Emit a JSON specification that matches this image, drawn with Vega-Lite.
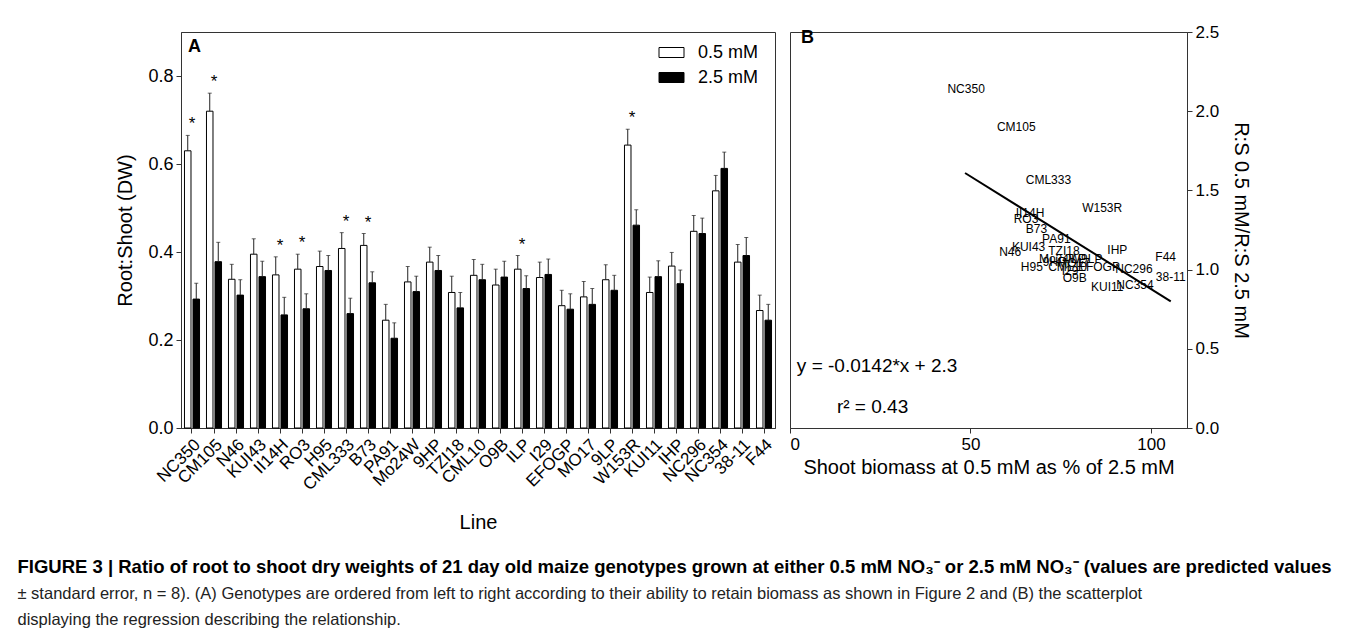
{
  "$schema": "https://vega.github.io/schema/vega-lite/v6.json",
  "padding": {"left": 17, "top": 22, "right": 5, "bottom": 5},
  "background": "white",
  "bounds": "flush",
  "spacing": 15,
  "config": {
    "font": "Liberation Sans",
    "view": {"stroke": "#333", "strokeWidth": 1},
    "axis": {"grid": false, "labelFontSize": 18, "titleFontSize": 20, "labelColor": "black", "titleColor": "black", "domainColor": "#333", "tickColor": "#333", "titleFontWeight": "normal", "tickSize": 5, "labelPadding": 3}
  },
  "title": {
    "text": ["FIGURE 3 | Ratio of root to shoot dry weights of 21 day old maize genotypes grown at either 0.5 mM NO₃⁻ or 2.5 mM NO₃⁻ (values are predicted values"],
    "subtitle": ["± standard error, n = 8). (A) Genotypes are ordered from left to right according to their ability to retain biomass as shown in Figure 2 and (B) the scatterplot", "displaying the regression describing the relationship."],
    "orient": "bottom", "anchor": "start", "font": "Liberation Sans", "fontSize": 18.5, "fontWeight": "bold", "color": "black",
    "subtitleFont": "Liberation Sans", "subtitleFontSize": 16.5, "subtitleFontWeight": "normal", "subtitleColor": "#222",
    "lineHeight": 27, "subtitleLineHeight": 26.5, "subtitlePadding": 9, "offset": 25, "dx": -98
  },
  "hconcat": [
    {
      "width": 594, "height": 396,
      "title": {"text": "A", "anchor": "start", "frame": "group", "fontSize": 18, "fontWeight": "bold", "offset": 0, "dx": 7, "dy": 38, "baseline": "alphabetic", "color": "black"},
      "data": {"values": [
        {"line": "NC350", "conc": "0.5 mM", "rs": 0.63, "hi": 0.665, "star": "*"},
        {"line": "NC350", "conc": "2.5 mM", "rs": 0.293, "hi": 0.329},
        {"line": "CM105", "conc": "0.5 mM", "rs": 0.72, "hi": 0.761, "star": "*"},
        {"line": "CM105", "conc": "2.5 mM", "rs": 0.378, "hi": 0.422},
        {"line": "N46", "conc": "0.5 mM", "rs": 0.338, "hi": 0.372},
        {"line": "N46", "conc": "2.5 mM", "rs": 0.302, "hi": 0.337},
        {"line": "KUI43", "conc": "0.5 mM", "rs": 0.395, "hi": 0.43},
        {"line": "KUI43", "conc": "2.5 mM", "rs": 0.344, "hi": 0.379},
        {"line": "II14H", "conc": "0.5 mM", "rs": 0.348, "hi": 0.389, "star": "*"},
        {"line": "II14H", "conc": "2.5 mM", "rs": 0.257, "hi": 0.297},
        {"line": "RO3", "conc": "0.5 mM", "rs": 0.361, "hi": 0.395, "star": "*"},
        {"line": "RO3", "conc": "2.5 mM", "rs": 0.271, "hi": 0.305},
        {"line": "H95", "conc": "0.5 mM", "rs": 0.367, "hi": 0.402},
        {"line": "H95", "conc": "2.5 mM", "rs": 0.358, "hi": 0.392},
        {"line": "CML333", "conc": "0.5 mM", "rs": 0.408, "hi": 0.444, "star": "*"},
        {"line": "CML333", "conc": "2.5 mM", "rs": 0.26, "hi": 0.295},
        {"line": "B73", "conc": "0.5 mM", "rs": 0.415, "hi": 0.442, "star": "*"},
        {"line": "B73", "conc": "2.5 mM", "rs": 0.33, "hi": 0.355},
        {"line": "PA91", "conc": "0.5 mM", "rs": 0.245, "hi": 0.281},
        {"line": "PA91", "conc": "2.5 mM", "rs": 0.204, "hi": 0.239},
        {"line": "Mo24W", "conc": "0.5 mM", "rs": 0.332, "hi": 0.367},
        {"line": "Mo24W", "conc": "2.5 mM", "rs": 0.31, "hi": 0.345},
        {"line": "9HP", "conc": "0.5 mM", "rs": 0.377, "hi": 0.411},
        {"line": "9HP", "conc": "2.5 mM", "rs": 0.358, "hi": 0.392},
        {"line": "TZI18", "conc": "0.5 mM", "rs": 0.308, "hi": 0.345},
        {"line": "TZI18", "conc": "2.5 mM", "rs": 0.273, "hi": 0.308},
        {"line": "CML10", "conc": "0.5 mM", "rs": 0.347, "hi": 0.383},
        {"line": "CML10", "conc": "2.5 mM", "rs": 0.337, "hi": 0.372},
        {"line": "O9B", "conc": "0.5 mM", "rs": 0.325, "hi": 0.361},
        {"line": "O9B", "conc": "2.5 mM", "rs": 0.343, "hi": 0.379},
        {"line": "ILP", "conc": "0.5 mM", "rs": 0.361, "hi": 0.392, "star": "*"},
        {"line": "ILP", "conc": "2.5 mM", "rs": 0.317, "hi": 0.346},
        {"line": "I29", "conc": "0.5 mM", "rs": 0.342, "hi": 0.377},
        {"line": "I29", "conc": "2.5 mM", "rs": 0.349, "hi": 0.384},
        {"line": "EFOGP", "conc": "0.5 mM", "rs": 0.278, "hi": 0.313},
        {"line": "EFOGP", "conc": "2.5 mM", "rs": 0.27, "hi": 0.305},
        {"line": "MO17", "conc": "0.5 mM", "rs": 0.298, "hi": 0.333},
        {"line": "MO17", "conc": "2.5 mM", "rs": 0.281, "hi": 0.317},
        {"line": "9LP", "conc": "0.5 mM", "rs": 0.337, "hi": 0.371},
        {"line": "9LP", "conc": "2.5 mM", "rs": 0.313, "hi": 0.347},
        {"line": "W153R", "conc": "0.5 mM", "rs": 0.643, "hi": 0.679, "star": "*"},
        {"line": "W153R", "conc": "2.5 mM", "rs": 0.461, "hi": 0.496},
        {"line": "KUI11", "conc": "0.5 mM", "rs": 0.308, "hi": 0.343},
        {"line": "KUI11", "conc": "2.5 mM", "rs": 0.344, "hi": 0.38},
        {"line": "IHP", "conc": "0.5 mM", "rs": 0.368, "hi": 0.399},
        {"line": "IHP", "conc": "2.5 mM", "rs": 0.328, "hi": 0.359},
        {"line": "NC296", "conc": "0.5 mM", "rs": 0.447, "hi": 0.483},
        {"line": "NC296", "conc": "2.5 mM", "rs": 0.442, "hi": 0.477},
        {"line": "NC354", "conc": "0.5 mM", "rs": 0.539, "hi": 0.574},
        {"line": "NC354", "conc": "2.5 mM", "rs": 0.59, "hi": 0.627},
        {"line": "38-11", "conc": "0.5 mM", "rs": 0.377, "hi": 0.417},
        {"line": "38-11", "conc": "2.5 mM", "rs": 0.392, "hi": 0.433},
        {"line": "F44", "conc": "0.5 mM", "rs": 0.267, "hi": 0.302},
        {"line": "F44", "conc": "2.5 mM", "rs": 0.245, "hi": 0.281}
      ]},
      "encoding": {
        "x": {"field": "line", "type": "nominal", "sort": null,
              "scale": {"paddingInner": 0.316, "paddingOuter": 0.158},
              "axis": {"title": "Line", "labelAngle": -45, "labelFontSize": 17, "titlePadding": 20}}
      },
      "layer": [
        {
          "mark": {"type": "bar", "stroke": "black", "strokeWidth": 1},
          "encoding": {
            "xOffset": {"field": "conc", "type": "nominal", "scale": {"paddingInner": 0.235}},
            "y": {"field": "rs", "type": "quantitative", "scale": {"domain": [0, 0.9], "nice": false},
                  "axis": {"values": [0, 0.2, 0.4, 0.6, 0.8], "format": ".1f", "title": "Root:Shoot (DW)", "titlePadding": 12}},
            "fill": {"field": "conc", "type": "nominal",
                     "scale": {"domain": ["0.5 mM", "2.5 mM"], "range": ["white", "black"]},
                     "legend": {"title": null, "orient": "none", "legendX": 480, "legendY": 10,
                                "symbolType": "M-1.25,-0.5H1.25V0.5H-1.25Z", "symbolSize": 400,
                                "symbolStrokeColor": "black", "symbolStrokeWidth": 1, "symbolOpacity": 1,
                                "labelFontSize": 18, "labelColor": "black", "labelOffset": 16, "rowPadding": 5, "padding": 0}}
          }
        },
        {
          "mark": {"type": "rule", "color": "#222", "strokeWidth": 1},
          "encoding": {
            "xOffset": {"field": "conc", "type": "nominal"},
            "y": {"field": "rs", "type": "quantitative"},
            "y2": {"field": "hi"}
          }
        },
        {
          "mark": {"type": "tick", "color": "#222", "size": 4, "thickness": 1, "orient": "horizontal"},
          "encoding": {
            "xOffset": {"field": "conc", "type": "nominal"},
            "y": {"field": "hi", "type": "quantitative"}
          }
        },
        {
          "transform": [{"filter": "datum.star && datum.conc == '0.5 mM'"}],
          "mark": {"type": "text", "fontSize": 17, "dy": -6, "baseline": "alphabetic", "color": "black"},
          "encoding": {
            "y": {"field": "hi", "type": "quantitative"},
            "text": {"field": "star"}
          }
        }
      ]
    },
    {
      "width": 397, "height": 396,
      "title": {"text": "B", "anchor": "start", "frame": "group", "fontSize": 18, "fontWeight": "bold", "offset": 0, "dx": 11, "dy": 38, "baseline": "alphabetic", "color": "black"},
      "layer": [
        {
          "data": {"values": [
            {"g": "NC350", "x": 48.8, "y": 2.14},
            {"g": "CM105", "x": 62.7, "y": 1.898},
            {"g": "CML333", "x": 71.6, "y": 1.564},
            {"g": "W153R", "x": 86.5, "y": 1.391},
            {"g": "II14H", "x": 66.5, "y": 1.36},
            {"g": "RO3", "x": 65.4, "y": 1.32},
            {"g": "B73", "x": 68.3, "y": 1.256},
            {"g": "PA91", "x": 73.8, "y": 1.195},
            {"g": "KUI43", "x": 66.1, "y": 1.14},
            {"g": "N46", "x": 61.0, "y": 1.111},
            {"g": "TZI18", "x": 75.9, "y": 1.12},
            {"g": "IHP", "x": 90.7, "y": 1.122},
            {"g": "F44", "x": 104.1, "y": 1.082},
            {"g": "NC296", "x": 95.3, "y": 1.006},
            {"g": "38-11", "x": 105.5, "y": 0.951},
            {"g": "NC354", "x": 95.6, "y": 0.903},
            {"g": "KUI11", "x": 87.9, "y": 0.888},
            {"g": "H95", "x": 67.0, "y": 1.016},
            {"g": "CML10", "x": 76.9, "y": 1.016},
            {"g": "O9B", "x": 78.9, "y": 0.947},
            {"g": "I29", "x": 77.6, "y": 0.99},
            {"g": "EFOGP", "x": 85.6, "y": 1.016},
            {"g": "Mo24W", "x": 74.7, "y": 1.07},
            {"g": "9HP", "x": 73.3, "y": 1.05},
            {"g": "ILP", "x": 79.5, "y": 1.07},
            {"g": "MO17", "x": 78.6, "y": 1.04},
            {"g": "9LP", "x": 83.6, "y": 1.065}
          ]},
          "mark": {"type": "text", "fontSize": 12, "color": "black"},
          "encoding": {
            "x": {"field": "x", "type": "quantitative", "scale": {"domain": [0, 110], "nice": false},
                  "axis": {"values": [0, 50, 100], "title": "Shoot biomass at 0.5 mM as % of 2.5 mM", "labelFontSize": 17, "titlePadding": 5}},
            "y": {"field": "y", "type": "quantitative", "scale": {"domain": [0, 2.5], "nice": false},
                  "axis": {"orient": "right", "values": [0, 0.5, 1, 1.5, 2, 2.5], "format": ".1f", "title": "R:S 0.5 mM/R:S 2.5 mM", "labelFontSize": 17, "titlePadding": 12}},
            "text": {"field": "g"}
          }
        },
        {
          "data": {"values": [{"x": 48.5, "y": 1.61}, {"x": 105.5, "y": 0.8}]},
          "mark": {"type": "line", "color": "black", "strokeWidth": 2},
          "encoding": {
            "x": {"field": "x", "type": "quantitative"},
            "y": {"field": "y", "type": "quantitative"}
          }
        },
        {
          "data": {"values": [{"x": 1.9, "y": 0.39, "t": "y = -0.0142*x + 2.3"}, {"x": 13, "y": 0.134, "t": "r² = 0.43"}]},
          "mark": {"type": "text", "fontSize": 19, "align": "left", "baseline": "middle", "color": "black"},
          "encoding": {
            "x": {"field": "x", "type": "quantitative"},
            "y": {"field": "y", "type": "quantitative"},
            "text": {"field": "t"}
          }
        }
      ]
    }
  ]
}
